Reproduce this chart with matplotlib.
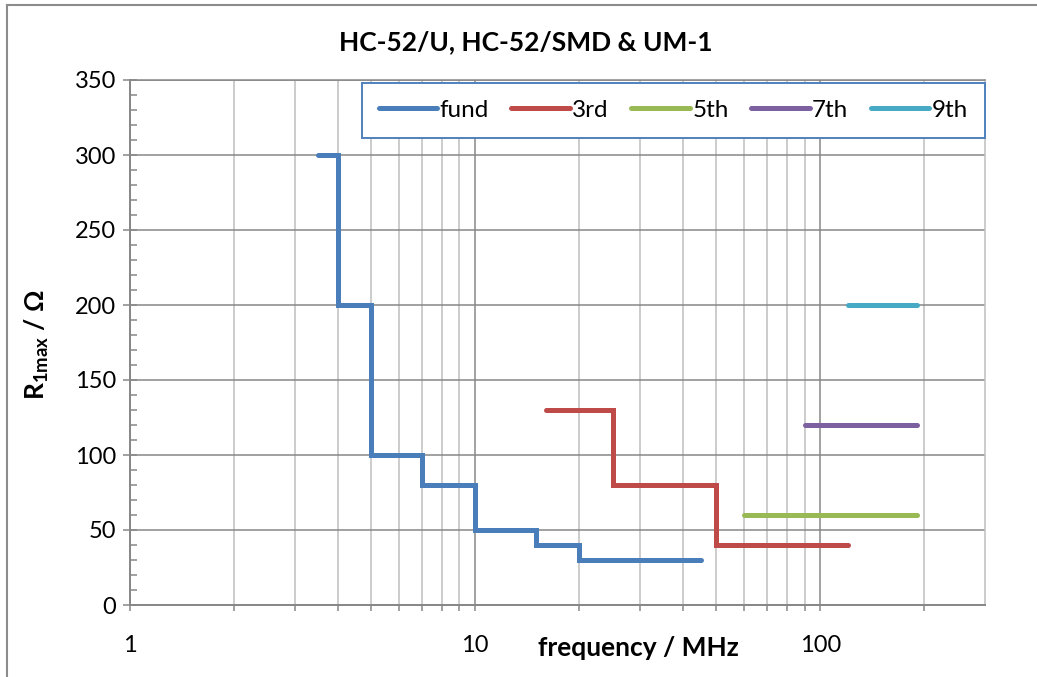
import numpy as np
import matplotlib.pyplot as plt
from matplotlib.lines import Line2D
from matplotlib.ticker import FixedLocator, NullFormatter, FixedFormatter

plt.rcParams['font.family'] = ['Lato', 'DejaVu Sans']
plt.rcParams['mathtext.fontset'] = 'custom'
plt.rcParams['mathtext.rm'] = 'Lato'
plt.rcParams['mathtext.bf'] = 'Lato:bold'

# step data: frequency (MHz) where each level starts, and R1max (ohm)
fund_f = [3.5, 4, 5, 7, 10, 15, 20, 45]
fund_r = [300, 200, 100, 80, 50, 40, 30, 30]
third_f = [16, 25, 50, 120]
third_r = [130, 80, 40, 40]
fifth_f = [60, 190]
fifth_r = [60, 60]
seventh_f = [90, 190]
seventh_r = [120, 120]
ninth_f = [120, 190]
ninth_r = [200, 200]

series = [
    ("fund", fund_f, fund_r, "#4a7ebb"),
    ("3rd", third_f, third_r, "#be4b48"),
    ("5th", fifth_f, fifth_r, "#98b954"),
    ("7th", seventh_f, seventh_r, "#7d60a0"),
    ("9th", ninth_f, ninth_r, "#46aac5"),
]

major_grey = "#878787"
minor_grey = "#bfbfbf"

fig = plt.figure(figsize=(10.37, 6.77), dpi=100)
ax = fig.add_axes([130 / 1037, 1 - 605 / 677, 855 / 1037, 525 / 677])

for name, f, r, c in series:
    ax.plot(f, r, drawstyle="steps-post", color=c, lw=3.6, label=name,
            solid_capstyle="round", solid_joinstyle="miter", zorder=3)

ax.set_xscale("log")
ax.set_xlim(1, 300)
ax.set_ylim(0, 350)

ax.xaxis.set_major_locator(FixedLocator([1, 10, 100]))
ax.xaxis.set_major_formatter(FixedFormatter(["1", "10", "100"]))
minors = [2, 3, 4, 5, 6, 7, 8, 9, 20, 30, 40, 50, 60, 70, 80, 90, 200]
ax.xaxis.set_minor_locator(FixedLocator(minors))
ax.xaxis.set_minor_formatter(NullFormatter())
ax.set_yticks(np.arange(0, 351, 50))
ax.yaxis.set_minor_locator(FixedLocator(np.arange(0, 351, 10)))

ax.grid(True, which="major", axis="y", color=major_grey, lw=1.1)
ax.grid(True, which="major", axis="x", color=major_grey, lw=1.1)
ax.grid(True, which="minor", axis="x", color=minor_grey, lw=1.1)
ax.set_axisbelow(True)

ax.spines["top"].set_color(major_grey)
ax.spines["top"].set_linewidth(1.1)
ax.spines["right"].set_color(minor_grey)
ax.spines["right"].set_linewidth(1.1)
for s in ["left", "bottom"]:
    ax.spines[s].set_color(major_grey)
    ax.spines[s].set_linewidth(1.4)

ax.tick_params(axis="x", which="both", direction="out", length=4.5, width=1.1,
               color=major_grey, labelsize=17, pad=17)
ax.tick_params(axis="y", which="major", direction="inout", length=10, width=1.1,
               color=major_grey, labelsize=17, pad=5)
ax.tick_params(axis="y", which="minor", direction="in", length=5, width=1.1,
               color=major_grey)

ax.text(0.595, -0.082, "frequency / MHz", transform=ax.transAxes, fontsize=19,
        fontweight="bold", ha="center", va="center")
fig.text(37 / 1037, 1 - 345 / 677, r"R$_{\mathbf{1max}}$ / Ω", rotation=90,
         fontsize=19, fontweight="bold", ha="center", va="center")
fig.text(526 / 1037, 1 - 42 / 677, "HC-52/U, HC-52/SMD & UM-1", fontsize=19,
         fontweight="bold", ha="center", va="center")

leg = ax.legend(loc="upper left", bbox_to_anchor=(0.271, 0.995, 0.729, 0.0),
                mode="expand", ncol=5, fontsize=17.5, frameon=True, fancybox=False,
                framealpha=1, edgecolor="#4f81bd", handlelength=2.4,
                handletextpad=0.1, columnspacing=0.9, borderpad=0.7,
                borderaxespad=0)
leg.get_frame().set_linewidth(1.4)

# chart area border (left and top edges visible)
fig.add_artist(Line2D([7 / 1037, 7 / 1037], [0, 1 - 5 / 677], transform=fig.transFigure,
                      color="#8c8c8c", lw=1.5))
fig.add_artist(Line2D([7 / 1037, 1], [1 - 5 / 677, 1 - 5 / 677], transform=fig.transFigure,
                      color="#8c8c8c", lw=1.5))

fig.savefig("out.png", dpi=100)
